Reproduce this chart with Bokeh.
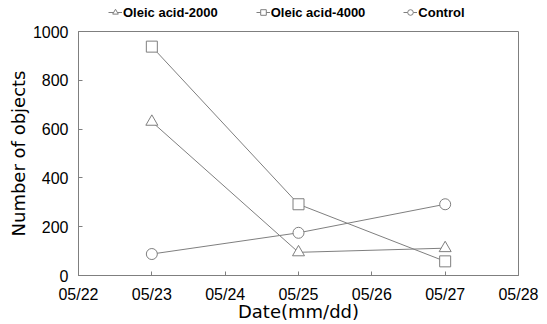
from bokeh.plotting import figure
from bokeh.models import Legend, LegendItem, FixedTicker, Range1d
from bokeh.layouts import column
from bokeh.embed import file_html
from bokeh.resources import INLINE

tick_labels = ["05/22", "05/23", "05/24", "05/25", "05/26", "05/27", "05/28"]
dates = ["05/23", "05/25", "05/27"]
oleic_2000 = [630, 95, 112]
oleic_4000 = [938, 292, 58]
control = [88, 175, 292]

x = [tick_labels.index(d) for d in dates]

TICK_FONT = "Liberation Sans"
LABEL_FONT = "DejaVu Sans"
LINE = "#7f7f7f"

# main plot
p = figure(width=547, height=300, output_backend="svg", toolbar_location=None,
           x_range=Range1d(0, len(tick_labels) - 1), y_range=Range1d(0, 1000),
           min_border_left=78, min_border_right=29, min_border_top=7, min_border_bottom=48)
p.background_fill_color = "white"
p.border_fill_color = "white"
p.outline_line_color = LINE
p.outline_line_width = 1
p.xgrid.visible = False
p.ygrid.visible = False

for ax in (p.xaxis[0], p.yaxis[0]):
    ax.axis_line_color = LINE
    ax.major_tick_line_color = LINE
    ax.major_tick_in = 4
    ax.major_tick_out = 0
    ax.minor_tick_line_color = None
    ax.major_label_text_font = TICK_FONT
    ax.major_label_text_font_size = "16px"
    ax.major_label_text_color = "black"
    ax.axis_label_text_font = LABEL_FONT
    ax.axis_label_text_font_size = "18px"
    ax.axis_label_text_font_style = "normal"
    ax.axis_label_text_color = "black"

p.xaxis.ticker = FixedTicker(ticks=list(range(len(tick_labels))))
p.xaxis.major_label_overrides = {i: t for i, t in enumerate(tick_labels)}
p.xaxis.axis_label = "Date(mm/dd)"
p.xaxis.major_label_standoff = 10
p.xaxis.axis_label_standoff = -5
p.yaxis.ticker = FixedTicker(ticks=[0, 200, 400, 600, 800, 1000])
p.yaxis.axis_label = "Number of objects"
p.yaxis.major_label_standoff = 10
p.yaxis.axis_label_standoff = 1

series = [("Oleic acid-2000", oleic_2000, "triangle", 12),
          ("Oleic acid-4000", oleic_4000, "square", 11),
          ("Control", control, "circle", 11)]
for name, ys, marker, size in series:
    p.line(x, ys, line_color=LINE, line_width=1)
    p.scatter(x, ys, marker=marker, size=size, fill_color="white",
              line_color=LINE, line_width=1)

# legend strip on top (same series, drawn off-range so only the legend shows)
top = figure(width=547, height=24, output_backend="svg", toolbar_location=None,
             x_range=Range1d(0, 1), y_range=Range1d(-2, -1),
             x_axis_location=None, y_axis_location=None,
             min_border=0, min_border_left=0, min_border_right=0,
             min_border_top=0, min_border_bottom=0)
top.outline_line_color = None
top.xgrid.visible = False
top.ygrid.visible = False
items = []
for name, ys, marker, size in series:
    l = top.line(x, ys, line_color=LINE, line_width=1)
    s = top.scatter(x, ys, marker=marker, size=size, fill_color="white",
                    line_color=LINE, line_width=1)
    items.append(LegendItem(label=name, renderers=[l, s]))

legend = Legend(items=items, orientation="horizontal", location=(30, 2),
                glyph_width=14, glyph_height=20, label_standoff=1, spacing=38,
                padding=0, margin=0, border_line_color=None,
                background_fill_alpha=0,
                label_text_font=TICK_FONT, label_text_font_size="13px",
                label_text_font_style="bold",
                label_text_color="black")
top.add_layout(legend, "center")

layout = column(top, p, spacing=0)
open("out.html", "w").write(file_html(layout, INLINE))
